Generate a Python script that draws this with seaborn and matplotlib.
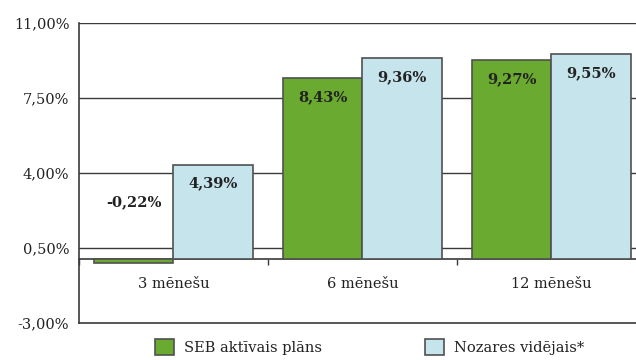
import matplotlib
import numpy as np
import pandas as pd
import seaborn as sns
from matplotlib import pyplot as plt

matplotlib.use('Agg')

periods = ['3 mēnešu', '6 mēnešu', '12 mēnešu']
series_names = ['SEB aktīvais plāns', 'Nozares vidējais*']
seb_values = [-0.22, 8.43, 9.27]
industry_values = [4.39, 9.36, 9.55]
y_ticks = [-3.0, 0.5, 4.0, 7.5, 11.0]

GREEN = '#6baa30'
BLUE = '#c5e4ec'
EDGE = '#505050'
LINE = '#3a3a3a'
TEXT = '#222222'


def pct_label(v):
    return f'{v:.2f}%'.replace('.', ',')


df = pd.DataFrame({
    'period': periods * 2,
    'series': [series_names[0]] * len(periods) + [series_names[1]] * len(periods),
    'value': seb_values + industry_values,
})

sns.set_style('white')
plt.rcParams['font.family'] = ['DejaVu Serif']
plt.rcParams['text.color'] = TEXT

fig = plt.figure(figsize=(6.36, 3.6), dpi=100)
ax = fig.add_axes([79 / 636, 37 / 360, 567 / 636, 300 / 360])

sns.barplot(data=df, x='period', y='value', hue='series', order=periods,
            hue_order=series_names, palette=[GREEN, BLUE], saturation=1, width=0.836,
            edgecolor=EDGE, linewidth=1.2, ax=ax, legend=False, zorder=3)

ax.set_xlim(-0.5, 2.5)
ax.set_ylim(y_ticks[0], y_ticks[-1])
ax.set_yticks(y_ticks)
ax.set_yticklabels([pct_label(t) for t in y_ticks], fontsize=10.5)
ax.tick_params(axis='y', direction='out', length=5, width=1, color=LINE, pad=2, labelcolor=TEXT)
ax.tick_params(axis='x', bottom=False, labelbottom=False)
ax.set_xlabel('')
ax.set_ylabel('')

for t in y_ticks[1:]:
    ax.axhline(t, color=LINE, lw=1, zorder=1)

for side in ['top', 'right']:
    ax.spines[side].set_visible(False)
for side in ['left', 'bottom']:
    ax.spines[side].set_color(LINE)
    ax.spines[side].set_linewidth(1.2)

# category axis sitting on the zero line
zero_pos = (0 - y_ticks[0]) / (y_ticks[-1] - y_ticks[0])
sec = ax.secondary_xaxis(zero_pos)
sec.spines['bottom'].set_color(LINE)
sec.spines['bottom'].set_linewidth(1.2)
sec.set_xticks(np.arange(len(periods) + 1) - 0.5)
sec.set_xticklabels([''] * (len(periods) + 1))
sec.set_xticks(np.arange(len(periods)), minor=True)
sec.set_xticklabels(periods, minor=True, fontsize=10.5)
sec.tick_params(axis='x', which='major', direction='out', length=4, width=1, color=LINE)
sec.tick_params(axis='x', which='minor', length=0, pad=13, labelcolor=TEXT)

for container in ax.containers:
    for bar in container:
        v = bar.get_height() if bar.get_y() >= 0 else bar.get_y()
        x = bar.get_x() + bar.get_width() / 2
        if v >= 0:
            ax.annotate(pct_label(v), xy=(x, v), xytext=(0, -19), textcoords='offset pixels',
                        ha='center', va='center', fontsize=10.5, fontweight='bold', zorder=5)
        else:
            ax.annotate(pct_label(v), xy=(x, 0), xytext=(0, 57), textcoords='offset pixels',
                        ha='center', va='center', fontsize=10.5, fontweight='bold', zorder=5)

handles = [plt.Rectangle((0, 0), 1, 1, facecolor=c, edgecolor=EDGE, linewidth=1.2)
           for c in [GREEN, BLUE]]
fig.legend(handles, series_names, loc='upper left', bbox_to_anchor=(155 / 636, 1 - 339 / 360),
           ncol=2, frameon=False, fontsize=10.5, handlelength=1.3, handleheight=1.3,
           handletextpad=0.7, columnspacing=7.05, borderpad=0, borderaxespad=0)

fig.savefig('out.png', dpi=100)
